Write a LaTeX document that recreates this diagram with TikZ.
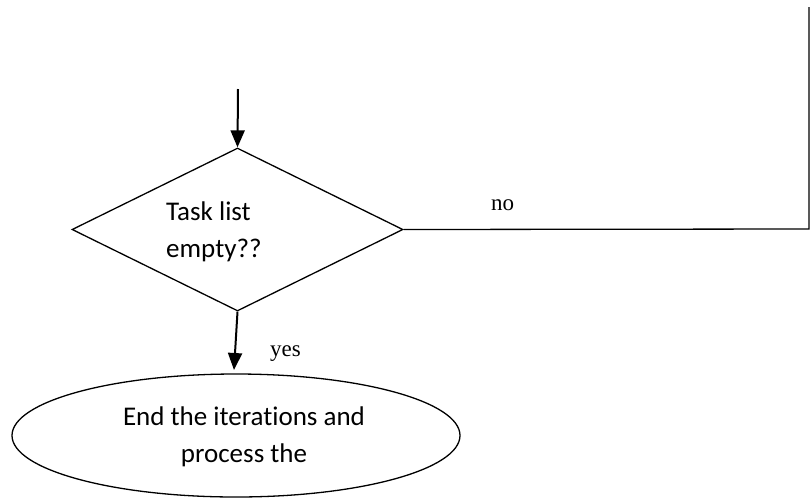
\documentclass[tikz,border=0pt]{standalone}
\usepackage{fontspec}
\setmainfont{Liberation Serif}
\newfontfamily\boxfont[Ligatures={NoCommon}]{Carlito}
\usetikzlibrary{shapes.geometric,arrows.meta}

\begin{document}
\begin{tikzpicture}[x=1pt,y=-1pt,
  shapeline/.style={draw=black,line width=1.3pt,inner sep=0pt},
  flowarrow/.style={line width=2pt,-{Triangle[width=14pt,length=17pt]}},
  boxtext/.style={font=\boxfont\fontsize{27}{37}\selectfont,inner sep=0pt},
  edgelabel/.style={font=\fontsize{23}{27}\selectfont,inner sep=0pt}]
  \useasboundingbox (0,0) rectangle (811,499);

  % decision and terminal shapes
  \node[shapeline,diamond,minimum width=331pt,minimum height=163pt] (test) at (237.5,229.5) {};
  \node[shapeline,ellipse,minimum width=448pt,minimum height=123pt] (finish) at (236,435.5) {};

  % texts inside the shapes
  \node[boxtext,anchor=base west] (testA) at (166,220) {Task list};
  \node[boxtext,anchor=base west] (testB) at (166,257) {empty??};
  \node[boxtext,anchor=base] (finA) at (244,425) {End the iterations and};
  \node[boxtext,anchor=base] (finB) at (244,462) {process the};

  % connectors
  \coordinate (entry) at (238,89);
  \coordinate (yestip) at (234,370);
  \coordinate (corner) at (809,229);
  \coordinate (loopend) at (809,7);
  \draw[flowarrow] (entry) -- (test.north);
  \draw[flowarrow] (test.south) -- (yestip);
  \draw[line width=1.3pt] (test.east) -- (corner) -- (loopend);

  % branch labels
  \node[edgelabel,anchor=base west] (yes) at (270,356) {yes};
  \node[edgelabel,anchor=base west] (no) at (491,210) {no};
\end{tikzpicture}
\end{document}
